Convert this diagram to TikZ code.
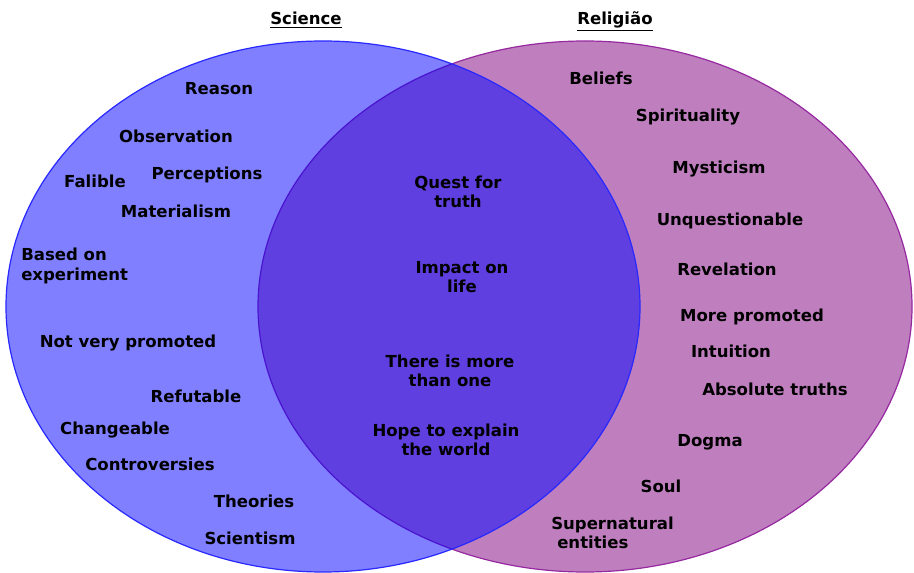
\documentclass[tikz,border=0pt]{standalone}
\usepackage{fontspec}
\setmainfont{DejaVu Sans}
\begin{document}
\begin{tikzpicture}[x=0.75pt,y=-0.75pt,
  lbl/.style={font=\fontsize{12.4pt}{14.6pt}\selectfont\bfseries, inner sep=0pt, text=black},
  one/.style={lbl, anchor=base},
  ml/.style={lbl, align=center},
  setR/.style={fill={rgb,255:red,128;green,0;blue,128}, fill opacity=0.5, draw={rgb,255:red,150;green,40;blue,160}, line width=0.9pt},
  setS/.style={fill={rgb,255:red,0;green,0;blue,255}, fill opacity=0.5, draw={rgb,255:red,40;green,40;blue,255}, line width=0.9pt}]
\useasboundingbox (0,0) rectangle (914,573);
\fill[white] (0,0) rectangle (914,573);
% sets
\path[setR] (585,306.5) ellipse [x radius=327, y radius=265.5];
\path[setS] (323,306.5) ellipse [x radius=317, y radius=265.5];
% titles
\node[one] (tS) at (306,25) {\underline{Science}};
\node[one] (tR) at (615,25) {\underline{Religião}};
% science
\node[one] (s1) at (219,95) {Reason};
\node[one] (s2) at (176,143) {Observation};
\node[one] (s3) at (207,180) {Perceptions};
\node[one] (s4) at (95,188) {Falible};
\node[one] (s5) at (176,218) {Materialism};
\node[lbl, align=left, anchor=west] (s6) at (21,266) {Based on\\experiment};
\node[one] (s7) at (128,348) {Not very promoted};
\node[one] (s8) at (196,403) {Refutable};
\node[one] (s9) at (115,435) {Changeable};
\node[one] (s10) at (150,470) {Controversies};
\node[one] (s11) at (254,507) {Theories};
\node[one] (s12) at (250,544) {Scientism};
% both
\node[ml] (b1) at (458,192) {Quest for\\truth};
\node[ml] (b2) at (462,277) {Impact on\\life};
\node[ml] (b3) at (450,371) {There is more\\than one};
\node[ml] (b4) at (446,440) {Hope to explain\\the world};
% religion
\node[one] (r1) at (601,85) {Beliefs};
\node[one] (r2) at (688,122) {Spirituality};
\node[one] (r3) at (719,174) {Mysticism};
\node[one] (r4) at (730,226) {Unquestionable};
\node[one] (r5) at (727,276) {Revelation};
\node[one] (r6) at (752,322) {More promoted};
\node[one] (r7) at (731,358) {Intuition};
\node[one] (r8) at (775,396) {Absolute truths};
\node[one] (r9) at (710,447) {Dogma};
\node[one] (r10) at (661,492) {Soul};
\node[lbl, align=left, anchor=west] (r11) at (551,533) {Supernatural\\\hspace*{4.5pt}entities};
\end{tikzpicture}
\end{document}
